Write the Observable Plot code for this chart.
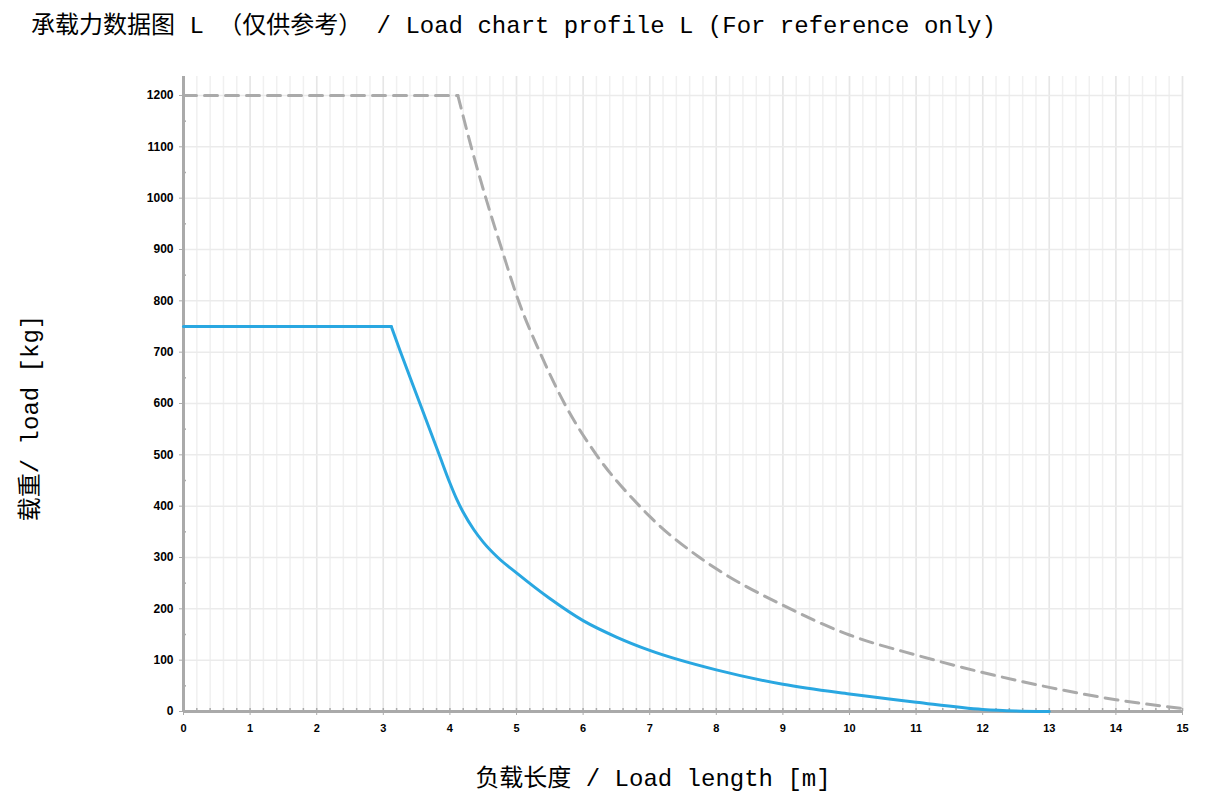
<!DOCTYPE html>
<html><head><meta charset="utf-8">
<script src="https://cdn.jsdelivr.net/npm/d3@7"></script>
<script src="https://cdn.jsdelivr.net/npm/@observablehq/plot@0.6"></script>
<style>
body{margin:0;background:#fff;}
#title{height:50px;box-sizing:border-box;padding:14px 0 0 31px;font:24px/26px "Liberation Mono","Noto Sans CJK SC",monospace;color:#000;white-space:pre;}
</style></head><body>
<div id="title">承载力数据图 L （仅供参考） / Load chart profile L (For reference only)</div>
<div id="chart"></div>
<script>
// ---- data ----
const titleText = "承载力数据图 L （仅供参考） / Load chart profile L (For reference only)";
const xLabel = "负载长度 / Load length [m]";
const yLabel = "载重/ load [kg]";
const xTicks = [0,1,2,3,4,5,6,7,8,9,10,11,12,13,14,15];
const yTicks = [0,100,200,300,400,500,600,700,800,900,1000,1100,1200];

// blue (solid) profile
const lengthA = [0, 3.12, 3.26, 3.55, 3.84, 4.0, 4.1, 4.2, 4.36, 4.5, 4.72, 5.0, 5.5, 6, 6.5, 7, 8, 9, 10, 11, 12, 12.5, 13];
const loadA   = [750, 750, 700, 600, 500, 445, 414, 388, 354, 330, 300, 270, 220, 177, 145, 119, 81, 53, 34, 18, 4, 1, 0];
// grey (dashed) profile
const lengthB = [0, 4.12, 4.32, 4.54, 4.78, 5.03, 5.35, 5.72, 6.2, 6.85, 7, 7.75, 8, 9, 10, 11, 12, 13, 14, 15];
const loadB   = [1200, 1200, 1100, 1000, 900, 800, 700, 600, 500, 400, 380, 300, 278, 207, 149, 110, 76, 47, 23, 6];

// ---- build ----
const A = lengthA.map((x,i)=>({x, y: loadA[i]}));
const B = lengthB.map((x,i)=>({x, y: loadB[i]}));
const minorX = d3.range(0, 15.001, 0.2).map(d=>+d.toFixed(1));
const minorY = d3.range(50, 1200, 100);

const W=1214, H=750, mL=183, mR=32, mT=26, mB=89;
const plotW = W-mL-mR, plotH = H-mT-mB;
const mono = '"Liberation Mono","Noto Sans CJK SC",monospace';
const blue = "#29a7e1", grey = "#aaaaaa";

const chart = Plot.plot({
  width: W, height: H,
  marginLeft: mL, marginRight: mR, marginTop: mT, marginBottom: mB,
  style: {fontFamily: '"Liberation Sans", Arial, sans-serif', background: "#fff", color: "#000"},
  x: {domain: [0, 15]},
  y: {domain: [0, 1237]},
  marks: [
    Plot.ruleX(minorX, {stroke: "#f0f0f0", strokeWidth: 1.5}),
    Plot.ruleX(xTicks, {stroke: "#e6e6e6", strokeWidth: 1.5}),
    Plot.ruleY(yTicks.filter(d => d > 0), {stroke: "#ebebeb", strokeWidth: 1.5}),
    Plot.tickX(minorX, {x: d => d, stroke: "#aaa", strokeWidth: 1.5, insetTop: plotH - 3}),
    Plot.tickY(minorY, {y: d => d, stroke: "#aaa", strokeWidth: 1.5, insetRight: plotW - 3}),
    Plot.axisX({ticks: xTicks, tickSize: 4, tickPadding: 9, fontWeight: "bold", fontSize: 11, stroke: "#aaa", label: null, tickFormat: d => String(d)}),
    Plot.axisY({ticks: yTicks, tickSize: 4, tickPadding: 6, fontWeight: "bold", fontSize: 12, stroke: "#aaa", label: null, tickFormat: d => String(d)}),
    Plot.ruleX([0], {stroke: "#aaa", strokeWidth: 3}),
    Plot.ruleY([0], {stroke: "#aaa", strokeWidth: 3}),
    // grey dashed
    Plot.line(B.slice(0, 2), {x: "x", y: "y", stroke: grey, strokeWidth: 3, strokeDasharray: "13,8"}),
    Plot.line(B.slice(1), {x: "x", y: "y", stroke: grey, strokeWidth: 3, strokeDasharray: "13,8", curve: "monotone-x"}),
    // blue solid
    Plot.line(A.slice(0, 2), {x: "x", y: "y", stroke: blue, strokeWidth: 3}),
    Plot.line(A.slice(1), {x: "x", y: "y", stroke: blue, strokeWidth: 3, curve: "monotone-x"}),
    // axis titles
    Plot.text([xLabel], {text: d => d, frameAnchor: "bottom", dy: 74, dx: -30, fontSize: 24, fontFamily: mono, fill: "#000"}),
    Plot.text([yLabel], {text: d => d, frameAnchor: "left", textAnchor: "middle", dx: -153, dy: 24, rotate: -90, fontSize: 24, fontFamily: mono, fill: "#000"})
  ]
});
document.getElementById("chart").appendChild(chart);
</script>
</body></html>
